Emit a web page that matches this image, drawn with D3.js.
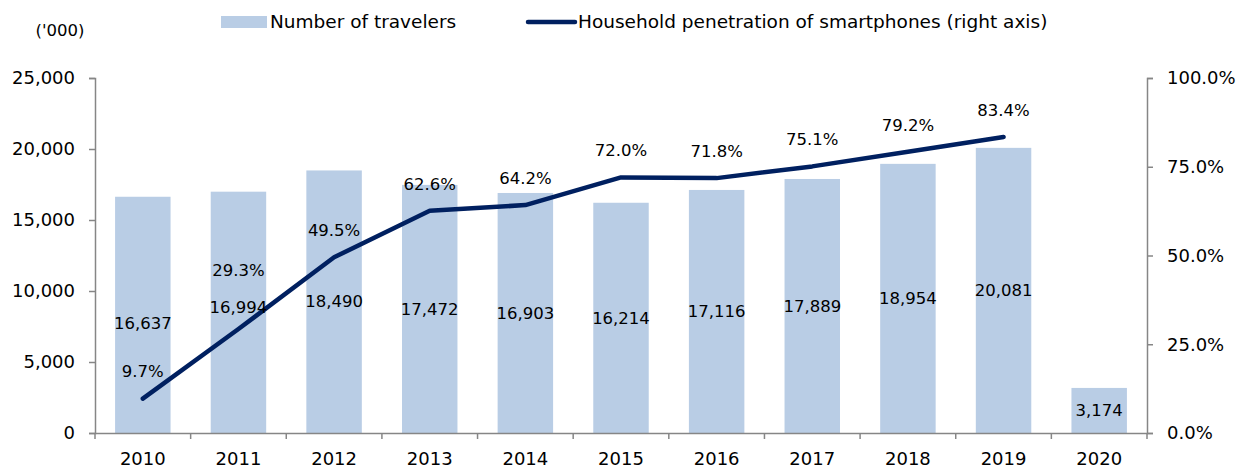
<!DOCTYPE html>
<html>
<head>
<meta charset="utf-8">
<script src="https://cdn.jsdelivr.net/npm/d3@7"></script>
<style>
  body { margin: 0; background: #fff; }
  svg text { font-family: "DejaVu Sans", Verdana, sans-serif; fill: #000; }
  .axis path, .axis line { stroke: #868686; stroke-width: 1.5; }
</style>
</head>
<body>
<div id="chart"></div>
<script>
// --- Data ---
const years = ['2010', '2011', '2012', '2013', '2014', '2015', '2016', '2017', '2018', '2019', '2020'];
const travelers = [16637, 16994, 18490, 17472, 16903, 16214, 17116, 17889, 18954, 20081, 3174];
const penetration = [9.7, 29.3, 49.5, 62.6, 64.2, 72.0, 71.8, 75.1, 79.2, 83.4, null];
const leftTicks = [0, 5000, 10000, 15000, 20000, 25000];
const rightTicks = [0, 25, 50, 75, 100];

const W = 1251, H = 470;
const margin = { top: 78, right: 104, bottom: 37, left: 95 };
const width = W - margin.left - margin.right;
const height = H - margin.top - margin.bottom;

const barColor = '#b9cde5';
const lineColor = '#002060';

const svg = d3.select('#chart').append('svg')
  .attr('width', W).attr('height', H);

const g = svg.append('g')
  .attr('transform', `translate(${margin.left},${margin.top})`);

// scales
const x = d3.scaleBand().domain(years).range([0, width]).paddingInner(0.42).paddingOuter(0.21);
const xTicks = d3.scaleBand().domain(years).range([0, width]);
const y = d3.scaleLinear().domain([0, 25000]).range([height, 0]);
const y2 = d3.scaleLinear().domain([0, 100]).range([height, 0]);

// bars
g.selectAll('.bar')
  .data(years)
  .enter().append('rect')
  .attr('class', 'bar')
  .attr('x', d => x(d))
  .attr('width', x.bandwidth())
  .attr('y', (d, i) => y(travelers[i]))
  .attr('height', (d, i) => height - y(travelers[i]))
  .style('fill', barColor);

// axes
const fmt = d3.format(',');

g.append('g')
  .attr('class', 'axis')
  .call(d3.axisLeft(y).tickValues(leftTicks).tickFormat(fmt).tickSize(6).tickSizeOuter(6).tickPadding(14));

g.append('g')
  .attr('class', 'axis')
  .attr('transform', `translate(${width},0)`)
  .call(d3.axisRight(y2).tickValues(rightTicks).tickFormat(d => d.toFixed(1) + '%').tickSize(6).tickSizeOuter(6).tickPadding(14));

const xAxis = g.append('g')
  .attr('class', 'axis')
  .attr('transform', `translate(0,${height})`)
  .call(d3.axisBottom(xTicks).tickSize(0).tickPadding(19));

// x ticks at category boundaries
xAxis.selectAll('.bound')
  .data(years.concat(['end']))
  .enter().append('line')
  .attr('x1', (d, i) => i * xTicks.step())
  .attr('x2', (d, i) => i * xTicks.step())
  .attr('y1', 0).attr('y2', 6)
  .style('stroke', '#868686').style('stroke-width', 1.5);

svg.selectAll('.axis text').style('font-size', '18px').style('font-family', '"DejaVu Sans", Verdana, sans-serif');

// line
const pts = years.map((d, i) => ({ year: d, v: penetration[i] })).filter(d => d.v != null);

const line = d3.line()
  .x(d => xTicks(d.year) + xTicks.bandwidth() / 2)
  .y(d => y2(d.v));

g.append('path')
  .datum(pts)
  .attr('d', line)
  .style('fill', 'none')
  .style('stroke', lineColor)
  .style('stroke-width', 4.5)
  .style('stroke-linejoin', 'round')
  .style('stroke-linecap', 'round');

// bar labels, centred in the bar (2010 and 2011 nudged as in the source)
const barNudge = { '2010': 8, '2011': -5 };
g.selectAll('.bar-label')
  .data(years)
  .enter().append('text')
  .attr('x', d => xTicks(d) + xTicks.bandwidth() / 2)
  .attr('y', (d, i) => (y(travelers[i]) + height) / 2 + (barNudge[d] || 0))
  .attr('dy', '0.35em')
  .attr('text-anchor', 'middle')
  .style('font-size', '16.5px')
  .text((d, i) => fmt(travelers[i]));

// line labels (2011 label sits higher in the source)
g.selectAll('.line-label')
  .data(pts)
  .enter().append('text')
  .attr('x', d => xTicks(d.year) + xTicks.bandwidth() / 2)
  .attr('y', d => y2(d.v) - (d.year === '2011' ? 59 : 27))
  .attr('dy', '0.35em')
  .attr('text-anchor', 'middle')
  .style('font-size', '16.5px')
  .text(d => d.v.toFixed(1) + '%');

// unit label
svg.append('text')
  .attr('x', 60).attr('y', 30)
  .attr('dy', '0.35em')
  .attr('text-anchor', 'middle')
  .style('font-size', '16.5px')
  .text("('000)");

// legend
const legend = svg.append('g');
legend.append('rect')
  .attr('x', 221).attr('y', 16).attr('width', 46).attr('height', 12)
  .style('fill', barColor);
legend.append('text')
  .attr('x', 270).attr('y', 22).attr('dy', '0.35em')
  .style('font-size', '18.5px')
  .text('Number of travelers');
legend.append('line')
  .attr('x1', 528).attr('x2', 575).attr('y1', 22).attr('y2', 22)
  .style('stroke', lineColor).style('stroke-width', 4.5).style('stroke-linecap', 'round');
legend.append('text')
  .attr('x', 578).attr('y', 22).attr('dy', '0.35em')
  .style('font-size', '18.5px')
  .text('Household penetration of smartphones (right axis)');
</script>
</body>
</html>
